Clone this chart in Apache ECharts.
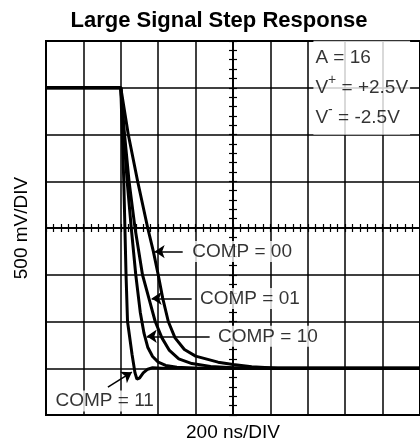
<!DOCTYPE html>
<html>
<head>
<meta charset="utf-8">
<script src="https://cdn.jsdelivr.net/npm/echarts@6/dist/echarts.min.js"></script>
<style>html,body{margin:0;padding:0;background:#fff}#c{width:420px;height:447px}</style>
</head>
<body>
<div id="c"></div>
<script>
// time in ns (200 ns/DIV), voltage in mV (500 mV/DIV), centred oscilloscope axes
const comp00 = [[-1000,1500],[-600,1500],[-560,1000],[-510,500],[-456,0],[-426,-250],[-400,-500],[-376,-750],[-346,-1000],[-310,-1175],[-260,-1300],[-200,-1370],[-80,-1435],[0,-1460],[100,-1485],[240,-1500],[1000,-1500]];
const comp01 = [[-1000,1500],[-600,1500],[-580,1000],[-556,500],[-524,0],[-484,-500],[-450,-750],[-416,-1000],[-380,-1175],[-340,-1310],[-290,-1400],[-220,-1450],[-120,-1480],[0,-1495],[120,-1500],[1000,-1500]];
const comp10 = [[-1000,1500],[-600,1500],[-584,1000],[-566,500],[-544,0],[-520,-500],[-496,-900],[-476,-1125],[-456,-1275],[-430,-1375],[-400,-1435],[-360,-1470],[-300,-1490],[-200,-1500],[1000,-1500]];
const comp11 = [[-1000,1500],[-600,1500],[-592,1000],[-584,500],[-578,0],[-572,-500],[-564,-1000],[-540,-1350],[-524,-1550],[-514,-1615],[-500,-1605],[-480,-1550],[-456,-1510],[-430,-1495],[-380,-1500],[1000,-1500]];

const seriesNames = ['COMP = 00','COMP = 01','COMP = 10','COMP = 11'];
const labelAt = [[-229,-252],[-187,-753],[-91,-1158],[-960,-1851]];
const arrowFrom = [[-269,-252],[-221,-753],[-125,-1158],[-669,-1702]];
const arrowTo = [[-419,-252],[-435,-753],[-461,-1158],[-541,-1542]];
const condAt = [430,1500];
const condText = '{a|A = 16}\n{a|V}{s|+}{a| = +2.5V}\n{a|V}{s|-}{a| = -2.5V}';

const xMin=-1000, xMax=1000, xStep=200;
const yMin=-2000, yMax=2000, yStep=500;
const FONT = '"Liberation Sans", Arial, Helvetica, sans-serif';

const chart = echarts.init(document.getElementById('c'), null, {renderer:'canvas'});

function xa(extra){ return Object.assign({type:'value',min:xMin,max:xMax,interval:xStep,axisLabel:{show:false},splitLine:{show:false}},extra); }
function ya(extra){ return Object.assign({type:'value',min:yMin,max:yMax,interval:yStep,axisLabel:{show:false},splitLine:{show:false}},extra); }
const centreTicks = (inside)=>({
  axisLine:{show:true,onZero:true,lineStyle:{color:'#000',width:1.5}},
  axisTick:{show:true,inside:inside,length:4,lineStyle:{color:'#000',width:1.2}},
  minorTick:{show:true,splitNumber:5,length:4,lineStyle:{color:'#000',width:1.2}}
});

const traces = [comp00, comp01, comp10, comp11];
const series = traces.map((d,i)=>({
  name: seriesNames[i], type:'line', data:d, showSymbol:false, symbol:'none',
  lineStyle:{color:'#000',width:3}, z:5, animation:false
}));
series[0].markLine = {
  silent:true, animation:false, symbol:['none','arrow'], symbolSize:10,
  label:{show:false}, lineStyle:{color:'#000',width:1.5,type:'solid'},
  data: arrowFrom.map((f,i)=>[{coord:f},{coord:arrowTo[i]}])
};
series.push({
  type:'scatter', symbolSize:0, z:10, animation:false, silent:true,
  data: labelAt.map((p,i)=>({value:p, name:seriesNames[i]})),
  label:{show:true, position:'right', distance:0, formatter:p=>p.name,
    color:'#000', fontFamily:FONT, fontSize:19, backgroundColor:'#fff', padding:[1,2,1,2]}
});
series.push({
  type:'scatter', symbolSize:0, z:10, animation:false, silent:true,
  data:[{value:condAt}],
  label:{show:true, position:'right', distance:0, formatter:condText,
    backgroundColor:'#fff', padding:[2,2,2,2],
    rich:{ a:{fontFamily:FONT,fontSize:19,color:'#000',lineHeight:30},
           s:{fontFamily:FONT,fontSize:14,color:'#000',lineHeight:12,verticalAlign:'top'} }}
});

chart.setOption({
  backgroundColor:'#fff',
  animation:false,
  title:{text:'Large Signal Step Response', left:214, textAlign:'center', top:5,
    textStyle:{fontFamily:FONT,fontWeight:'bold',fontSize:22,color:'#000'}},
  grid:{left:46, top:41, width:375, height:375, show:true, borderColor:'#000', borderWidth:2, backgroundColor:'transparent'},
  xAxis:[
    xa({position:'bottom', axisLine:{show:false,onZero:false}, axisTick:{show:false},
        splitLine:{show:true,lineStyle:{color:'#000',width:1.5}},
        name:'200 ns/DIV', nameLocation:'middle', nameGap:8,
        nameTextStyle:{fontFamily:FONT,fontSize:19,color:'#000',verticalAlign:'top'}}),
    xa(Object.assign({position:'bottom'}, centreTicks(false))),
    xa(Object.assign({position:'bottom'}, centreTicks(true)))
  ],
  yAxis:[
    ya({position:'left', axisLine:{show:false,onZero:false}, axisTick:{show:false},
        splitLine:{show:true,lineStyle:{color:'#000',width:1.5}},
        name:'500 mV/DIV', nameLocation:'middle', nameGap:15,
        nameTextStyle:{fontFamily:FONT,fontSize:19,color:'#000'}}),
    ya(Object.assign({position:'left'}, centreTicks(false))),
    ya(Object.assign({position:'left'}, centreTicks(true)))
  ],
  series: series
});
</script>
</body>
</html>
